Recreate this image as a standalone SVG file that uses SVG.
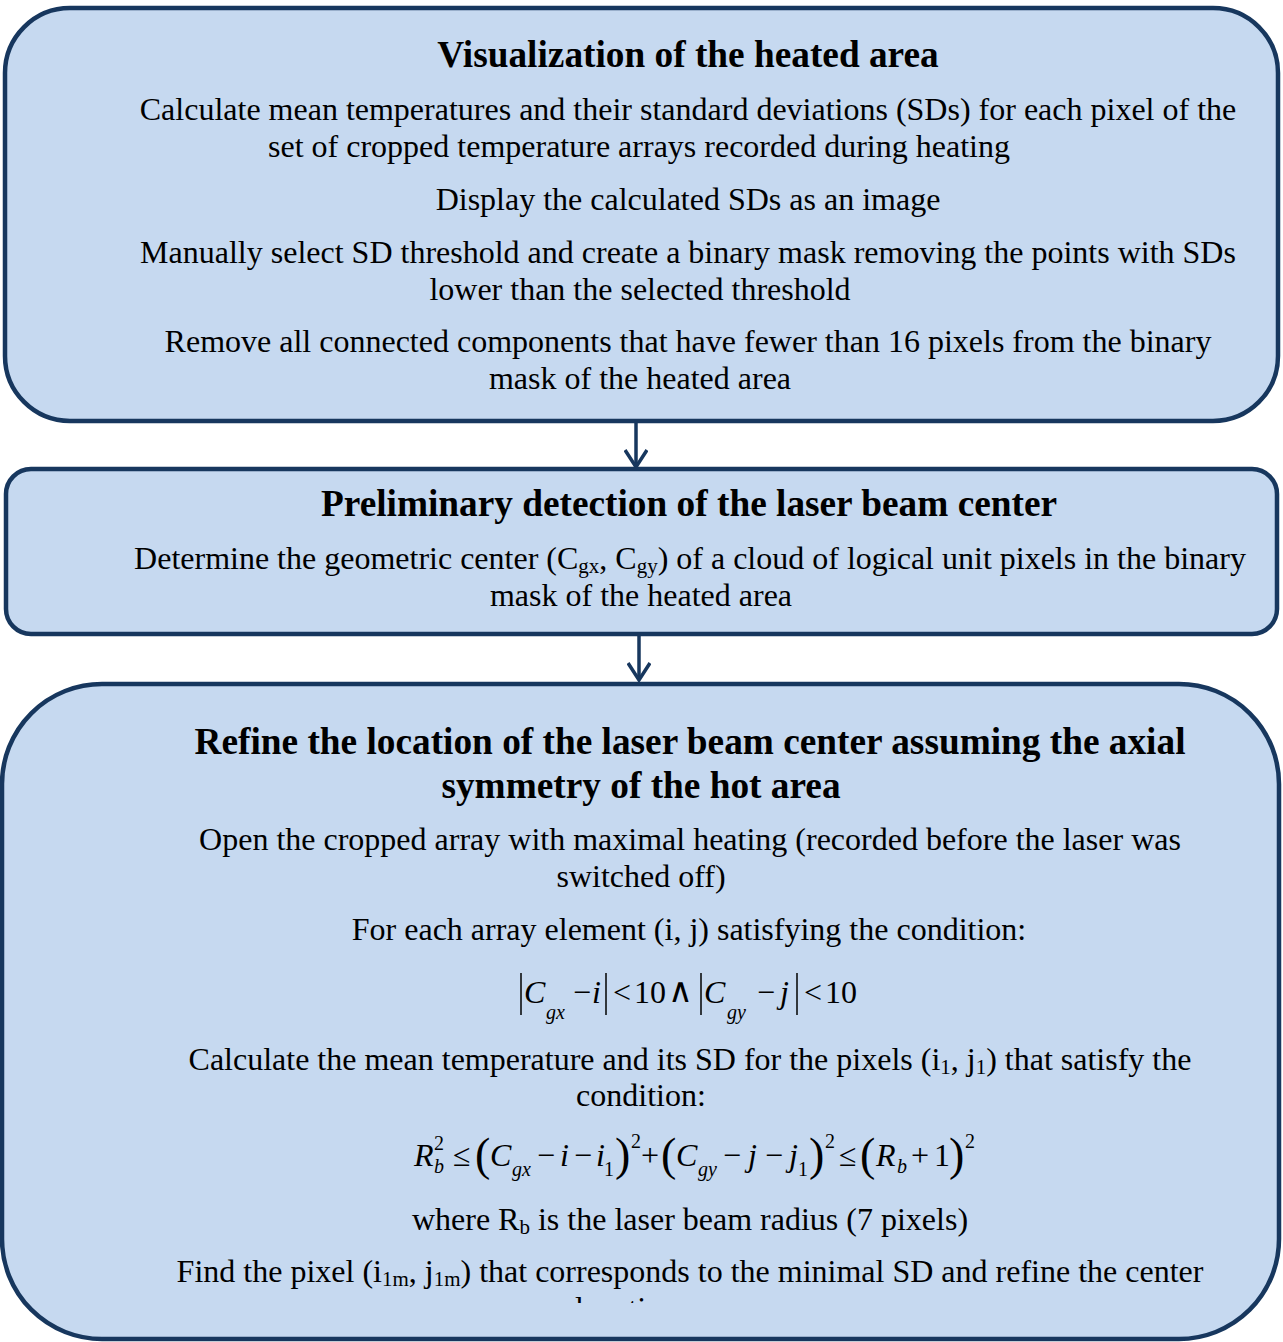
<svg xmlns="http://www.w3.org/2000/svg" width="1283" height="1342" viewBox="0 0 1283 1342">
<style>
.box{fill:#c6d9f0;stroke:#17375e;stroke-width:4.5}
.t{font-family:"Liberation Serif","Times New Roman",serif;font-size:32px;fill:#000;text-anchor:middle}
.h{font-family:"Liberation Serif","Times New Roman",serif;font-size:37.3px;font-weight:bold;fill:#000;text-anchor:middle}
.sub{font-size:21px}
.m{font-family:"Liberation Serif","Times New Roman",serif;font-size:32px;fill:#000}
.mi{font-style:italic}
.ms{font-family:"Liberation Serif","Times New Roman",serif;font-size:20px;fill:#000;font-style:italic}
.mn{font-family:"Liberation Serif","Times New Roman",serif;font-size:20px;fill:#000}
.bp{font-family:"Liberation Serif","Times New Roman",serif;font-size:46px;fill:#000}
.wedge{font-family:"DejaVu Serif","Noto Sans",serif;font-size:34px;fill:#000}
.bar{stroke:#000;stroke-width:1.5}
.conn{stroke:#17375e;stroke-width:3.5;fill:none}
</style>
<defs>
<marker id="arr" viewBox="0 0 22 24" refX="19" refY="12" markerWidth="22" markerHeight="24" markerUnits="userSpaceOnUse" orient="auto">
<path d="M2,1 L19,12 L2,23" fill="none" stroke="#17375e" stroke-width="3.5"/>
</marker>
<clipPath id="clipb"><rect x="0" y="0" width="1283" height="1303"/></clipPath>
</defs>

<g id="connectors">
<line class="conn" x1="636" y1="421" x2="636" y2="467" marker-end="url(#arr)"/>
<line class="conn" x1="639" y1="634" x2="639" y2="680" marker-end="url(#arr)"/>
</g>

<g id="node1">
<rect class="box" x="5" y="8" width="1273" height="413" rx="65" ry="65"/>
<text class="h" x="688" y="67">Visualization of the heated area</text>
<text class="t" x="688" y="120">Calculate mean temperatures and their standard deviations (SDs) for each pixel of the</text>
<text class="t" x="639" y="157">set of cropped temperature arrays recorded during heating</text>
<text class="t" x="688" y="210">Display the calculated SDs as an image</text>
<text class="t" x="688" y="263">Manually select SD threshold and create a binary mask removing the points with SDs</text>
<text class="t" x="640" y="300">lower than the selected threshold</text>
<text class="t" x="688" y="352">Remove all connected components that have fewer than 16 pixels from the binary</text>
<text class="t" x="640" y="389">mask of the heated area</text>
</g>

<g id="node2">
<rect class="box" x="6" y="469" width="1271" height="165" rx="25" ry="25"/>
<text class="h" x="689" y="516">Preliminary detection of the laser beam center</text>
<text class="t" x="690" y="569">Determine the geometric center (C<tspan class="sub" dy="4">gx</tspan><tspan dy="-4">, C</tspan><tspan class="sub" dy="4">gy</tspan><tspan dy="-4">) of a cloud of logical unit pixels in the binary</tspan></text>
<text class="t" x="641" y="606">mask of the heated area</text>
</g>

<g id="node3">
<rect class="box" x="2" y="684" width="1277" height="655" rx="100" ry="100"/>
<text class="h" x="690" y="754">Refine the location of the laser beam center assuming the axial</text>
<text class="h" x="641" y="798">symmetry of the hot area</text>
<text class="t" x="690" y="850">Open the cropped array with maximal heating (recorded before the laser was</text>
<text class="t" x="641" y="887">switched off)</text>
<text class="t" x="689" y="940">For each array element (i, j) satisfying the condition:</text>

<g id="formula1">
<line class="bar" x1="521" y1="973" x2="521" y2="1015"/>
<text class="m mi" x="524" y="1003">C</text>
<text class="ms" x="546" y="1019">gx</text>
<text class="m" x="573" y="1003">−</text>
<text class="m mi" x="592" y="1003">i</text>
<line class="bar" x1="606" y1="973" x2="606" y2="1015"/>
<text class="m" x="613" y="1003">&lt;</text>
<text class="m" x="634" y="1003">10</text>
<text class="wedge" x="668" y="1002">∧</text>
<line class="bar" x1="701" y1="973" x2="701" y2="1015"/>
<text class="m mi" x="704" y="1003">C</text>
<text class="ms" x="727" y="1019">gy</text>
<text class="m" x="757" y="1003">−</text>
<text class="m mi" x="780" y="1003">j</text>
<line class="bar" x1="797" y1="973" x2="797" y2="1015"/>
<text class="m" x="804" y="1003">&lt;</text>
<text class="m" x="825" y="1003">10</text>
</g>

<text class="t" x="690" y="1070">Calculate the mean temperature and its SD for the pixels (i<tspan class="sub" dy="4">1</tspan><tspan dy="-4">, j</tspan><tspan class="sub" dy="4">1</tspan><tspan dy="-4">) that satisfy the</tspan></text>
<text class="t" x="641" y="1106">condition:</text>

<g id="formula2">
<text class="m mi" x="414" y="1166">R</text>
<text class="mn" x="434" y="1150">2</text>
<text class="ms" x="434" y="1173">b</text>
<text class="m" x="453" y="1166">≤</text>
<text class="bp" x="475" y="1170">(</text>
<text class="m mi" x="490" y="1166">C</text>
<text class="ms" x="512" y="1176">gx</text>
<text class="m" x="537" y="1166">−</text>
<text class="m mi" x="560" y="1166">i</text>
<text class="m" x="574" y="1166">−</text>
<text class="m mi" x="596" y="1166">i</text>
<text class="mn" x="604" y="1176">1</text>
<text class="bp" x="615" y="1170">)</text>
<text class="mn" x="631" y="1148">2</text>
<text class="m" x="641" y="1166">+</text>
<text class="bp" x="661" y="1170">(</text>
<text class="m mi" x="676" y="1166">C</text>
<text class="ms" x="698" y="1176">gy</text>
<text class="m" x="723" y="1166">−</text>
<text class="m mi" x="748" y="1166">j</text>
<text class="m" x="765" y="1166">−</text>
<text class="m mi" x="789" y="1166">j</text>
<text class="mn" x="798" y="1176">1</text>
<text class="bp" x="809" y="1170">)</text>
<text class="mn" x="825" y="1148">2</text>
<text class="m" x="839" y="1166">≤</text>
<text class="bp" x="860" y="1170">(</text>
<text class="m mi" x="876" y="1166">R</text>
<text class="ms" x="897" y="1173">b</text>
<text class="m" x="911" y="1166">+</text>
<text class="m" x="934" y="1166">1</text>
<text class="bp" x="949" y="1170">)</text>
<text class="mn" x="965" y="1148">2</text>
</g>

<text class="t" x="690" y="1230">where R<tspan class="sub" dy="4">b</tspan><tspan dy="-4"> is the laser beam radius (7 pixels)</tspan></text>
<text class="t" x="690" y="1282">Find the pixel (i<tspan class="sub" dy="4">1m</tspan><tspan dy="-4">, j</tspan><tspan class="sub" dy="4">1m</tspan><tspan dy="-4">) that corresponds to the minimal SD and refine the center</tspan></text>
<text class="t" x="575" y="1319" style="text-anchor:start" clip-path="url(#clipb)">location</text>
</g>
</svg>
